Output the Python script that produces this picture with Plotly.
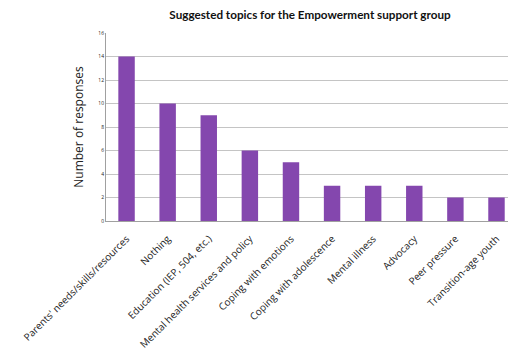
import plotly.graph_objects as go

categories = ["Parents' needs/skills/resources", "Nothing", "Education (IEP, 504, etc.)",
              "Mental health services and policy", "Coping with emotions",
              "Coping with adolescence", "Mental illness", "Advocacy",
              "Peer pressure", "Transition-age youth"]
values = [14, 10, 9, 6, 5, 3, 3, 3, 2, 2]
y_ticks = [0, 2, 4, 6, 8, 10, 12, 14, 16]

fig = go.Figure(go.Bar(
    x=categories, y=values, width=0.4,
    marker=dict(color="#8447AE", line=dict(width=0)),
))

fig.update_layout(
    width=508, height=357,
    margin=dict(l=106, r=0, t=33, b=136),
    paper_bgcolor="white", plot_bgcolor="white",
    showlegend=False,
    title=dict(text="<b>Suggested topics for the Empowerment support group</b>",
               x=310/508, xanchor="center", xref="container",
               y=1-15/357, yanchor="middle", yref="container",
               font=dict(family="Lato", size=11.7, color="#111111")),
    font=dict(family="Open Sans", color="#222222"),
)
fig.update_xaxes(
    range=[-0.5, 9.28], tickangle=-45, tickfont=dict(size=10),
    showline=True, linecolor="#A0A0A0", linewidth=1,
    showgrid=False, ticks="", fixedrange=True, ticklabelstandoff=7,
)
fig.update_yaxes(
    range=[0, 16], tickvals=y_ticks, tickfont=dict(size=5),
    showline=True, linecolor="#A0A0A0", linewidth=1,
    showgrid=True, gridcolor="#C4C4C4", gridwidth=1,
    zeroline=False, ticks="",
    title=dict(text="Number of responses", font=dict(size=12), standoff=12),
)

fig.write_html("out.html")
